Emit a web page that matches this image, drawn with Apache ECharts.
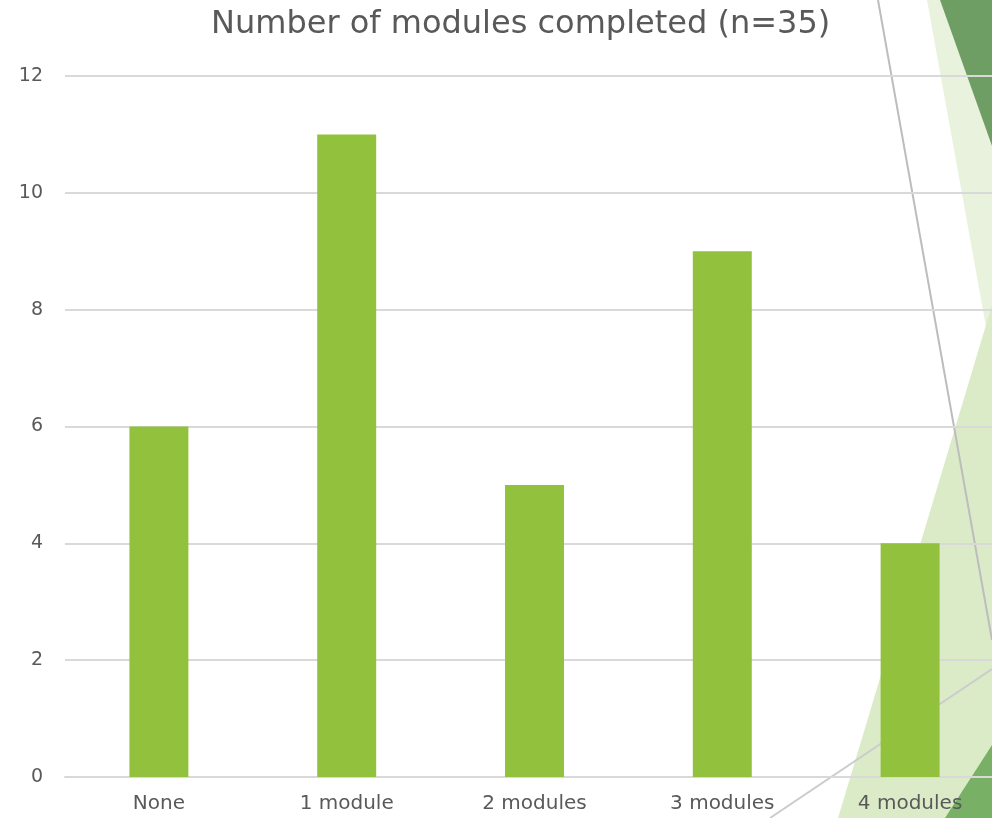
<!DOCTYPE html>
<html>
<head>
<meta charset="utf-8">
<script src="https://cdn.jsdelivr.net/npm/echarts@6/dist/echarts.min.js"></script>
<style>html,body{margin:0;padding:0;background:#fff}#c{width:992px;height:818px}</style>
</head>
<body>
<div id="c"></div>
<script>
const categories = ["None", "1 module", "2 modules", "3 modules", "4 modules"];
const counts = [6, 11, 5, 9, 4];
const yTicks = { min: 0, max: 12, interval: 2 };
const titleText = "Number of modules completed (n=35)";

const chart = echarts.init(document.getElementById('c'));
const font = "DejaVu Sans";
chart.setOption({
  backgroundColor: '#ffffff',
  animation: false,
  title: {
    text: titleText, left: 206, top: 4,
    textStyle: { fontFamily: font, fontSize: 32, fontWeight: 'normal', color: '#595959' }
  },
  graphic: {
    z: -10,
    elements: [
      { type: 'polygon', z: -10, shape: { points: [[927,0],[940,0],[992,146],[992,360]] }, style: { fill: '#e9f2dd' } },
      { type: 'polygon', z: -10, shape: { points: [[940,0],[992,0],[992,146]] }, style: { fill: '#6f9e64' } },
      { type: 'polygon', z: -10, shape: { points: [[992,305],[992,818],[838,818]] }, style: { fill: '#dcebc7' } },
      { type: 'polygon', z: -10, shape: { points: [[992,745],[992,818],[945,818]] }, style: { fill: '#78b066' } },
      { type: 'line', z: -9, shape: { x1: 878, y1: 0, x2: 992, y2: 640 }, style: { stroke: '#bdbdbd', lineWidth: 2 } },
      { type: 'line', z: -9, shape: { x1: 992, y1: 669, x2: 770, y2: 818 }, style: { stroke: '#cccccc', lineWidth: 2 } }
    ]
  },
  grid: { left: 65, width: 939, top: 76, bottom: 41, containLabel: false, outerBoundsMode: 'none' },
  xAxis: {
    type: 'category', data: categories,
    axisLine: { lineStyle: { color: '#d9d9d9', width: 2 } },
    axisTick: { show: false },
    axisLabel: { fontFamily: font, fontSize: 20, color: '#595959', margin: 17 }
  },
  yAxis: {
    type: 'value', min: yTicks.min, max: yTicks.max, interval: yTicks.interval,
    axisLine: { show: false }, axisTick: { show: false },
    splitLine: { lineStyle: { color: '#d9d9d9', width: 2 } },
    axisLabel: { fontFamily: font, fontSize: 19, color: '#595959', margin: 22 }
  },
  series: [{
    type: 'bar', data: counts, barWidth: '31.4%',
    itemStyle: { color: '#92c13e' }
  }]
});
</script>
</body>
</html>
